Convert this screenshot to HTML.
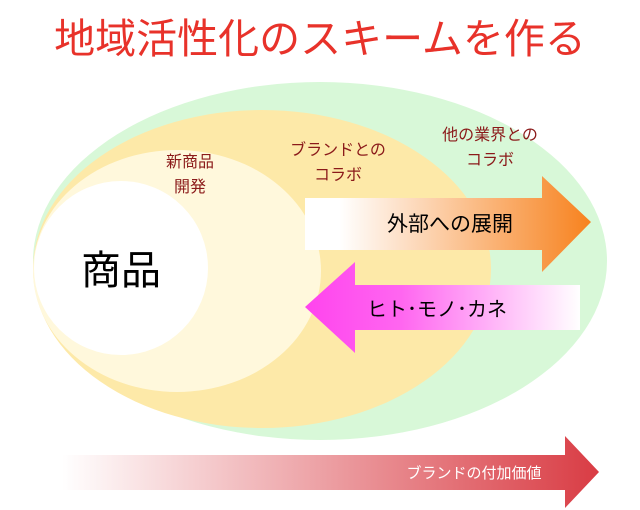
<!DOCTYPE html>
<html><head><meta charset="utf-8"><style>
html,body{margin:0;padding:0;background:#fff;}
svg{display:block}
text{font-family:"Liberation Sans","Noto Sans CJK JP",sans-serif;}
</style></head><body>
<svg width="640" height="510" viewBox="0 0 640 510" xmlns="http://www.w3.org/2000/svg">
<defs>
<linearGradient id="g1" x1="0" x2="1" y1="0" y2="0"><stop offset="0" stop-color="#fff"/><stop offset="0.12" stop-color="#fff"/><stop offset="1" stop-color="#f7821e"/></linearGradient>
<linearGradient id="g2" x1="0" x2="1" y1="0" y2="0"><stop offset="0" stop-color="#ff44ee"/><stop offset="0.35" stop-color="#ff66f0"/><stop offset="1" stop-color="#fff"/></linearGradient>
<linearGradient id="g3" x1="0" x2="1" y1="0" y2="0"><stop offset="0" stop-color="#fff"/><stop offset="1" stop-color="#d93c44"/></linearGradient>
</defs>
<text x="320" y="53" text-anchor="middle" font-size="41" fill="#e8322a">地域活性化のスキームを作る</text>
<ellipse cx="320" cy="261" rx="287" ry="179" fill="#d8f8d8"/>
<ellipse cx="262" cy="269" rx="229" ry="159" fill="#fde9a8"/>
<ellipse cx="177" cy="271" rx="144" ry="121" fill="#fff8dc"/>
<circle cx="121" cy="268" r="87" fill="#fff"/>
<text x="121" y="284" text-anchor="middle" font-size="40" fill="#000">商品</text>
<g font-size="16" fill="#8b1a1a" text-anchor="middle">
<text x="190" y="167">新商品</text><text x="190" y="192">開発</text>
<text x="338" y="155">ブランドとの</text><text x="338" y="180">コラボ</text>
<text x="490" y="140">他の業界との</text><text x="490" y="165">コラボ</text>
</g>
<polygon points="305,198 542,198 542,176 591,222 542,272 542,250 305,250" fill="url(#g1)"/>
<text x="450" y="231" text-anchor="middle" font-size="21" fill="#000">外部への展開</text>
<polygon points="580,285 355,285 355,262 305,307 355,353 355,330 580,330" fill="url(#g2)"/>
<text x="437" y="316" text-anchor="middle" font-size="20" fill="#000">ヒト･モノ･カネ</text>
<polygon points="62,455 565,455 565,436 599,472 565,508 565,490 62,490" fill="url(#g3)"/>
<text x="474" y="478" text-anchor="middle" font-size="15" fill="#fff">ブランドの付加価値</text>
</svg>
</body></html>
